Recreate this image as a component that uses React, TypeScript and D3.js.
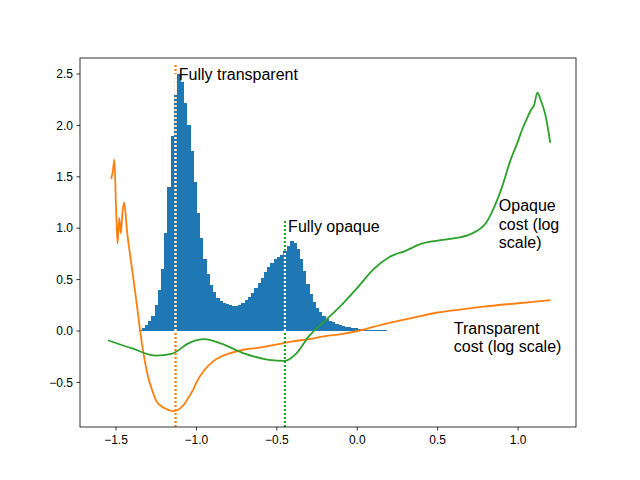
import React from 'react';
import * as d3 from 'd3';

const histStart = -1.36;
const histWidth = 0.02;
const histValues = [
  0.01, 0.03, 0.06, 0.1, 0.15, 0.25, 0.4, 0.6, 0.95, 1.4, 1.9, 2.3, 2.5, 2.42, 2.22, 2.0, 1.75, 1.45,
  1.15, 0.9, 0.7, 0.55, 0.45, 0.38, 0.32, 0.29, 0.27, 0.26, 0.25, 0.24, 0.24, 0.25, 0.27, 0.3, 0.33,
  0.37, 0.42, 0.47, 0.52, 0.57, 0.62, 0.66, 0.7, 0.72, 0.74, 0.78, 0.83, 0.88, 0.86, 0.8, 0.7, 0.58,
  0.46, 0.36, 0.28, 0.22, 0.18, 0.15, 0.12, 0.1, 0.085, 0.07, 0.06, 0.05, 0.04, 0.035, 0.03, 0.025,
  0.02, 0.015, 0.012, 0.01, 0.008, 0.007, 0.006, 0.005, 0.005, 0.004, 0.004, 0.003, 0.003, 0.002, 0.002,
];

const transparentX = [-1.53, -1.52, -1.51, -1.5, -1.49, -1.48, -1.47, -1.46, -1.45, -1.43, -1.4, -1.37, -1.35, -1.32, -1.3, -1.27, -1.25, -1.22, -1.2, -1.17, -1.15, -1.12, -1.1, -1.07, -1.05, -1.02, -1.0, -0.95, -0.9, -0.85, -0.8, -0.7, -0.6, -0.5, -0.4, -0.3, -0.2, -0.1, 0.0, 0.1, 0.2, 0.35, 0.5, 0.65, 0.8, 1.0, 1.2];
const transparentY = [1.48, 1.55, 1.67, 1.2, 0.85, 1.1, 0.95, 1.15, 1.25, 0.95, 0.6, 0.25, 0.0, -0.3, -0.45, -0.6, -0.68, -0.73, -0.75, -0.77, -0.78, -0.77, -0.75, -0.7, -0.65, -0.57, -0.5, -0.38, -0.3, -0.25, -0.22, -0.18, -0.16, -0.13, -0.1, -0.08, -0.05, -0.03, 0.0, 0.04, 0.08, 0.13, 0.18, 0.21, 0.24, 0.27, 0.3];

const opaqueX = [-1.55, -1.4, -1.25, -1.15, -1.05, -0.95, -0.85, -0.7, -0.55, -0.45, -0.38, -0.3, -0.2, -0.1, 0.0, 0.1, 0.2, 0.3, 0.4, 0.5, 0.6, 0.7, 0.8, 0.85, 0.9, 0.95, 1.0, 1.03, 1.05, 1.08, 1.1, 1.12, 1.14, 1.17, 1.2];
const opaqueY = [-0.09, -0.17, -0.24, -0.22, -0.12, -0.08, -0.12, -0.22, -0.28, -0.29, -0.22, -0.05, 0.1, 0.25, 0.42, 0.6, 0.72, 0.78, 0.85, 0.88, 0.9, 0.94, 1.05, 1.2, 1.4, 1.65, 1.85, 1.98, 2.05, 2.15, 2.2, 2.32, 2.25, 2.1, 1.83];

const xTicks = [-1.5, -1.0, -0.5, 0.0, 0.5, 1.0];
const yTicks = [-0.5, 0.0, 0.5, 1.0, 1.5, 2.0, 2.5];

const W = 640, H = 480;
const L = 80, R = 576, T = 58, B = 427;
const blue = '#1f77b4', orange = '#ff7f0e', green = '#2ca02c';

export default function App() {
  const x = d3.scaleLinear().domain([-1.724, 1.36]).range([L, R]);
  const y = d3.scaleLinear().domain([-0.934, 2.656]).range([B, T]);
  const line = (xs: number[], ys: number[]) =>
    d3.line<number>().x((_, i) => x(xs[i])).y((d) => y(d)).curve(d3.curveMonotoneX)(ys) || '';
  const font = 'Liberation Sans, Arial, sans-serif';
  return (
    <svg width={W} height={H} style={{ position: 'absolute', left: 0, top: 0 }} fontFamily={font}>
      <rect width={W} height={H} fill="#fff" />
      <g shapeRendering="crispEdges">
        {histValues.map((v, i) => {
          const x0 = histStart + i * histWidth;
          return (
            <rect key={i} x={x(x0)} width={x(x0 + histWidth) - x(x0) + 0.6} y={y(v)} height={y(0) - y(v)} fill={blue} />
          );
        })}
      </g>
      <path d={line(transparentX, transparentY)} fill="none" stroke={orange} strokeWidth={1.8} />
      <path d={line(opaqueX, opaqueY)} fill="none" stroke={green} strokeWidth={1.8} />
      <line x1={x(-1.13)} x2={x(-1.13)} y1={y(-0.934)} y2={y(2.6)} stroke={orange} strokeWidth={2.2} strokeDasharray="2,2" />
      <line x1={x(-1.13)} x2={x(-1.13)} y1={y(0)} y2={y(2.5)} stroke="#fff" strokeWidth={2.2} strokeDasharray="2,2" />
      <line x1={x(-0.45)} x2={x(-0.45)} y1={y(-0.934)} y2={y(1.08)} stroke={green} strokeWidth={2.2} strokeDasharray="2,2" />
      <line x1={x(-0.45)} x2={x(-0.45)} y1={y(0)} y2={y(0.78)} stroke="#fff" strokeWidth={2.2} strokeDasharray="2,2" />
      <text x={x(-1.11)} y={y(2.5)} fontSize={16} dy="0.35em">Fully transparent</text>
      <text x={x(-0.43)} y={y(1.02)} fontSize={16} dy="0.35em">Fully opaque</text>
      <text x={x(0.88)} y={y(1.22)} fontSize={16} dy="0.35em">
        <tspan x={x(0.88)}>Opaque</tspan>
        <tspan x={x(0.88)} dy="1.15em">cost (log</tspan>
        <tspan x={x(0.88)} dy="1.15em">scale)</tspan>
      </text>
      <text x={x(0.6)} y={y(0.03)} fontSize={16} dy="0.35em">
        <tspan x={x(0.6)}>Transparent</tspan>
        <tspan x={x(0.6)} dy="1.15em">cost (log scale)</tspan>
      </text>
      <rect x={L} y={T} width={R - L} height={B - T} fill="none" stroke="#000" strokeWidth={0.8} />
      {xTicks.map((t) => (
        <g key={t} transform={`translate(${x(t)},${B})`}>
          <line y2={3.5} stroke="#000" strokeWidth={0.8} />
          <text y={17} textAnchor="middle" fontSize={12}>{t.toFixed(1).replace('-', '\u2212')}</text>
        </g>
      ))}
      {yTicks.map((t) => (
        <g key={t} transform={`translate(${L},${y(t)})`}>
          <line x2={-3.5} stroke="#000" strokeWidth={0.8} />
          <text x={-7} dy="0.35em" textAnchor="end" fontSize={12}>{t.toFixed(1).replace('-', '\u2212')}</text>
        </g>
      ))}
    </svg>
  );
}
